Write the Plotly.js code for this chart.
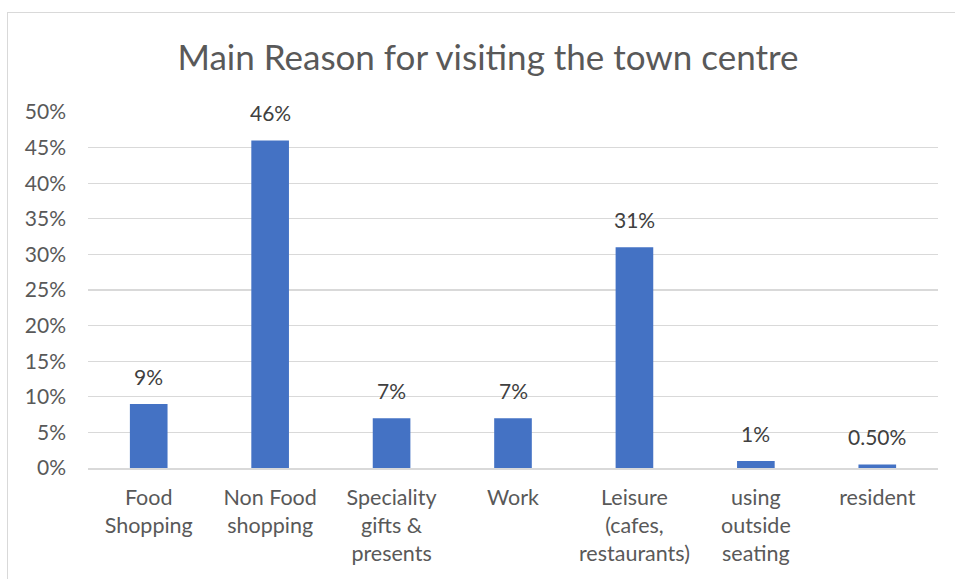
<!DOCTYPE html>
<html><head><meta charset="utf-8">
<script src="https://cdn.plot.ly/plotly-3.0.1.min.js"></script>
<style>
html,body{margin:0;padding:0;background:#fff;overflow:hidden;}
#wrap{position:absolute;left:7px;top:12px;width:960px;height:580px;border:1px solid #d9d9d9;}
#chart{width:960px;height:580px;}
</style></head><body>
<div id="wrap"><div id="chart"></div></div>
<script>
const categories = ["Food<br>Shopping","Non Food<br>shopping","Speciality<br>gifts &<br>presents","Work","Leisure<br>(cafes,<br>restaurants)","using<br>outside<br>seating","resident"];
const values = [0.09, 0.46, 0.07, 0.07, 0.31, 0.01, 0.005];
const labels = ["9%","46%","7%","7%","31%","1%","0.50%"];
const yTicks = [0,0.05,0.10,0.15,0.20,0.25,0.30,0.35,0.40,0.45,0.50];

const font = "Lato, 'Open Sans', sans-serif";
const annotations = categories.map((c,i)=>({
  x:c, y:values[i], xref:'x', yref:'y', text:labels[i], showarrow:false,
  yanchor:'bottom', yshift:13, font:{family:font,size:21,color:'#404040'}
}));
Plotly.newPlot('chart', [{
  type:'bar', x:categories, y:values,
  marker:{color:'#4472C4'}, hoverinfo:'none'
}], {
  width:960, height:580,
  margin:{l:80,r:30,t:99,b:125},
  paper_bgcolor:'#fff', plot_bgcolor:'#fff',
  bargap:0.69,
  showlegend:false,
  annotations:annotations,
  font:{family:font,color:'#595959',size:21},
  title:{text:'Main Reason for visiting the town centre', x:0.5, xanchor:'center', y:0.923, yanchor:'middle', font:{family:font,size:35,color:'#595959'}},
  xaxis:{showgrid:false, showline:true, linecolor:'#d9d9d9', linewidth:1.5, ticks:'', ticklabelstandoff:10, tickfont:{size:21.5,color:'#595959'}, fixedrange:true, tickangle:0},
  yaxis:{range:[0,0.5], tickvals:yTicks, tickformat:'.0%', showgrid:true, gridcolor:'#d9d9d9', gridwidth:1.3, zeroline:false, showline:false, ticks:'', ticklabelstandoff:21, tickfont:{size:21,color:'#595959'}, fixedrange:true}
}, {displayModeBar:false, staticPlot:true});
</script></body></html>
